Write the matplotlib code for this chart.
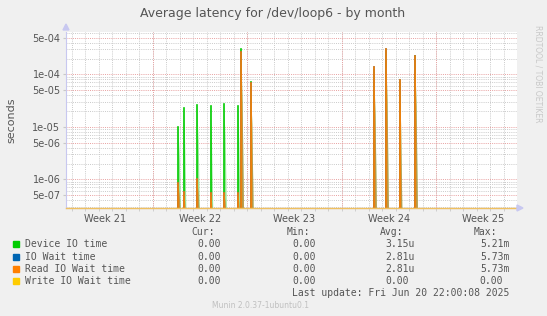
import numpy as np
import matplotlib
matplotlib.use('Agg')
from matplotlib import pyplot as plt
from matplotlib.patches import Rectangle

W, H = 547, 316

# days from Monday of week 22 (May 26 2025)
x_lo, x_hi = -6.42, 27.0
y_lo, y_hi = 2.84e-7, 6.4e-4

# spikes: time (days) and peak value (seconds)
dev_t = [1.90, 2.30, 3.30, 4.29, 5.30, 6.31, 6.56, 7.28, 16.41, 17.30, 18.30, 19.45]
dev_v = [1.0e-5, 2.24e-5, 2.6e-5, 2.5e-5, 2.7e-5, 2.5e-5, 3.0e-4, 7.0e-5, 1.2e-4, 2.8e-4, 7.0e-5, 2.2e-4]
read_t = [1.90, 2.30, 3.30, 4.29, 5.30, 6.31, 6.56, 7.28, 16.41, 17.30, 18.30, 19.45]
read_v = [8.4e-7, 5.8e-7, 1.0e-6, 5.6e-7, 5.6e-7, 5.6e-7, 2.7e-4, 6.9e-5, 1.36e-4, 3.0e-4, 7.8e-5, 2.23e-4]
iowait_t = read_t
iowait_v = read_v

week_labels = ['Week 21', 'Week 22', 'Week 23', 'Week 24', 'Week 25']
week_centers = [-3.5, 3.5, 10.5, 17.5, 24.5]
week_bounds = [0, 7, 14, 21]

ymajor = [5e-7, 1e-6, 5e-6, 1e-5, 5e-5, 1e-4, 5e-4]
ymajor_lbl = ['5e-07', '1e-06', '5e-06', '1e-05', '5e-05', '1e-04', '5e-04']

legend_names = ['Device IO time', 'IO Wait time', 'Read IO Wait time', 'Write IO Wait time']
legend_cols = ['#00CC00', '#0066B3', '#FF8000', '#FFCC00']
cur = ['0.00', '0.00', '0.00', '0.00']
mins = ['0.00', '0.00', '0.00', '0.00']
avg = ['3.15u', '2.81u', '2.81u', '0.00']
mx = ['5.21m', '5.73m', '5.73m', '0.00']

fig = plt.figure(figsize=(W/100, H/100), dpi=100, facecolor='#F0F0F0')
ax = fig.add_axes([66/W, 1-208/H, (517-66)/W, (208-32)/H])
ax.set_facecolor('white')
ax.set_yscale('log')
ax.set_xlim(x_lo, x_hi)
ax.set_ylim(y_lo, y_hi)

# grid
minor_y = []
for e in range(-7, -3):
    for m in [2, 3, 4, 6, 7, 8, 9]:
        v = m * 10.0**e
        if y_lo < v < y_hi:
            minor_y.append(v)
ax.set_yticks(ymajor)
ax.set_yticklabels(ymajor_lbl)
ax.set_yticks(minor_y, minor=True)
ax.yaxis.set_minor_formatter(matplotlib.ticker.NullFormatter())
ax.set_xticks(week_centers)
ax.set_xticklabels(week_labels)
ax.set_xticks(np.arange(-6, 27, 1), minor=True)

dots = (0, (1, 1.2))
for v in minor_y:
    ax.axhline(v, color='#CACACA', lw=0.7, ls=dots, zorder=0)
for d in np.arange(-6, 27, 1):
    ax.axvline(d, color='#CACACA', lw=0.7, ls=dots, zorder=0)
for v in ymajor:
    ax.axhline(v, color='#E8A0A0', lw=0.7, ls=dots, zorder=0.5)
for d in week_bounds:
    ax.axvline(d, color='#E8A0A0', lw=0.7, ls=dots, zorder=0.5)

ax.tick_params(axis='x', which='major', length=0, labelsize=7, labelcolor='#555555', pad=4)
ax.tick_params(axis='x', which='minor', length=2, color='#C8C8C8')
ax.tick_params(axis='y', which='major', length=2, color='#C8C8C8', labelsize=7, labelcolor='#555555', pad=2)
ax.tick_params(axis='y', which='minor', length=0)

for s in ['top', 'right']:
    ax.spines[s].set_visible(False)
ax.spines['left'].set_color('#C8C8F0')
ax.spines['bottom'].set_color('#C8C8F0')
ax.spines['left'].set_linewidth(0.8)
ax.spines['bottom'].set_linewidth(0.8)

w = 0.22

def spikes(ts, vs, color, fill, z, alpha):
    for t, v in zip(ts, vs):
        base = y_lo * 0.5
        xs = [t, t, t + w * 0.5, t + w]
        ys = [base, v, v ** 0.7 * base ** 0.3, base]
        if fill:
            ax.fill(xs, ys, color=fill, alpha=alpha, lw=0, zorder=z)
        ax.plot([t, t], [base, v], color=color, lw=1.2, zorder=z + 0.1)

spikes(dev_t, dev_v, legend_cols[0], '#80E080', 2, 0.8)
spikes(iowait_t, iowait_v, legend_cols[1], None, 3, 1)
spikes(read_t, read_v, legend_cols[2], '#C08A3A', 4, 0.85)

# zero line of write series at bottom
ax.axhline(y_lo * 1.01, color='#F0C060', lw=1.0, zorder=5, clip_on=False)

# axis arrows
fig.patches.append(matplotlib.patches.Polygon([[63/W, 1-30/H], [69/W, 1-30/H], [66/W, 1-24/H]],
                   closed=True, transform=fig.transFigure, color='#C8C8F0'))
fig.patches.append(matplotlib.patches.Polygon([[517/W, 1-205/H], [517/W, 1-211/H], [523/W, 1-208/H]],
                   closed=True, transform=fig.transFigure, color='#C8C8F0'))

fig.text(273/W, 1-13/H, 'Average latency for /dev/loop6 - by month', ha='center', va='center',
         fontsize=9, color='#555555')
fig.text(11/W, 1-120/H, 'seconds', rotation=90, ha='center', va='center', fontsize=8, color='#555555')
fig.text(538/W, 1-25/H, 'RRDTOOL / TOBI OETIKER', rotation=270, ha='center', va='top',
         fontsize=5.5, color='#C8C8C8')

mono = 'DejaVu Sans Mono'
tc = '#555555'
fs = 7
rows_y = [244.3, 256.7, 268.7, 280.7]
fig.text(215/W, 1-232.3/H, 'Cur:', ha='right', va='center', family=mono, fontsize=fs, color=tc)
fig.text(310/W, 1-232.3/H, 'Min:', ha='right', va='center', family=mono, fontsize=fs, color=tc)
fig.text(403/W, 1-232.3/H, 'Avg:', ha='right', va='center', family=mono, fontsize=fs, color=tc)
fig.text(497/W, 1-232.3/H, 'Max:', ha='right', va='center', family=mono, fontsize=fs, color=tc)
for i, yy in enumerate(rows_y):
    fig.patches.append(Rectangle((13/W, 1-(yy+3)/H), 6/W, 6/H, transform=fig.transFigure,
                                 color=legend_cols[i]))
    fig.text(25/W, 1-yy/H, legend_names[i], ha='left', va='center', family=mono, fontsize=fs, color=tc)
    fig.text(221/W, 1-yy/H, cur[i], ha='right', va='center', family=mono, fontsize=fs, color=tc)
    fig.text(315.7/W, 1-yy/H, mins[i], ha='right', va='center', family=mono, fontsize=fs, color=tc)
    fig.text((415 if avg[i] != '0.00' else 409)/W, 1-yy/H, avg[i], ha='right', va='center',
             family=mono, fontsize=fs, color=tc)
    fig.text((509.3 if mx[i] != '0.00' else 503)/W, 1-yy/H, mx[i], ha='right', va='center',
             family=mono, fontsize=fs, color=tc)
fig.text(509/W, 1-292.7/H, 'Last update: Fri Jun 20 22:00:08 2025', ha='right', va='center',
         family=mono, fontsize=fs, color=tc)
fig.text(261/W, 1-305.7/H, 'Munin 2.0.37-1ubuntu0.1', ha='center', va='center', fontsize=5.5,
         color='#C0C0C0')

fig.savefig('out.png', dpi=100, facecolor=fig.get_facecolor())
